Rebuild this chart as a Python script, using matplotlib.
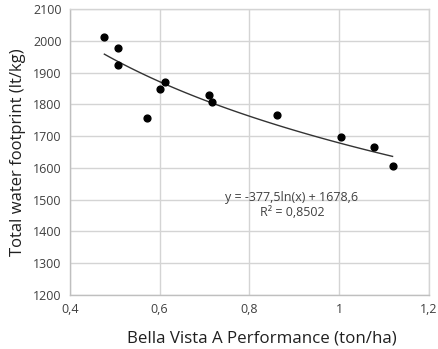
import numpy as np
import matplotlib
matplotlib.use("Agg")
import matplotlib.pyplot as plt
import matplotlib.ticker as mticker

# performance (ton/ha) vs total water footprint (lt/kg)
perf = [0.477, 0.508, 0.508, 0.572, 0.602, 0.612, 0.711, 0.717, 0.861, 1.005, 1.077, 1.119]
footprint = [2011, 1977, 1925, 1758, 1847, 1870, 1829, 1807, 1765, 1698, 1666, 1606]

# log trendline y = a*ln(x) + b
coef_a = -377.5
coef_b = 1678.6
r2 = 0.8502

x_ticks = [0.4, 0.6, 0.8, 1.0, 1.2]
y_ticks = [1200, 1300, 1400, 1500, 1600, 1700, 1800, 1900, 2000, 2100]

plt.rcParams["font.family"] = ["Open Sans", "DejaVu Sans"]

fig = plt.figure(figsize=(4.39, 3.49), dpi=100)
ax = fig.add_axes([0.159, 0.155, 0.818, 0.819])

xs = np.linspace(min(perf), max(perf), 100)
ax.plot(xs, coef_a * np.log(xs) + coef_b, color="#333333", linewidth=1.0, zorder=3)
ax.scatter(perf, footprint, s=24, color="black", zorder=4)

ax.set_xlim(0.4, 1.2)
ax.set_ylim(1200, 2100)
ax.set_xticks(x_ticks)
ax.set_yticks(y_ticks)


def comma_fmt(v, _):
    s = f"{v:g}"
    return s.replace(".", ",")


ax.xaxis.set_major_formatter(mticker.FuncFormatter(comma_fmt))
ax.grid(True, color="#d4d4d4", linewidth=1.0)
ax.set_axisbelow(True)
for sp in ax.spines.values():
    sp.set_color("#d4d4d4")
    sp.set_linewidth(1.0)
ax.spines["left"].set_color("#bfbfbf")
ax.spines["bottom"].set_color("#bfbfbf")
ax.tick_params(length=0, labelsize=9, labelcolor="#404040", pad=6)

ax.set_xlabel("Bella Vista A Performance (ton/ha)", fontsize=12.2, color="#202020")
ax.xaxis.set_label_coords(0.535, -0.125)
ax.set_ylabel("Total water footprint (lt/kg)", fontsize=12, color="#202020", labelpad=5)

ax.text(0.895, 1506, f"y = {coef_a:g}ln(x) + {coef_b:g}".replace(".", ","),
        ha="center", va="center", fontsize=9, color="#404040")
ax.text(0.895, 1458, f"R² = {r2:.4f}".replace(".", ","),
        ha="center", va="center", fontsize=9, color="#404040")

fig.savefig("out.png", dpi=100)
